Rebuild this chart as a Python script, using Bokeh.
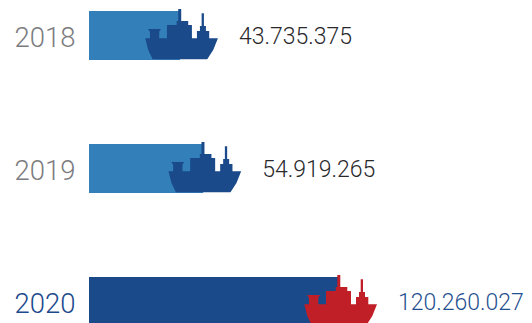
from bokeh.embed import file_html
from bokeh.models import ColumnDataSource, Range1d
from bokeh.plotting import figure
from bokeh.resources import INLINE
from bokeh.core.properties import value

years = ["2018", "2019", "2020"]
passengers = [43735375, 54919265, 120260027]
labels = ["43.735.375", "54.919.265", "120.260.027"]

WIDTH, HEIGHT = 532, 323
PX_PER_UNIT = 250 / 120260027
LEFT_PAD = 88.5
ROW_TOP = [10.5, 143.5, 276.5]
BAR_H = 49

bar_colors = ["#337fba", "#337fba", "#1a4a8a"]
ship_colors = ["#1a4a8a", "#1a4a8a", "#c01f27"]
year_colors = ["#7c7c80", "#7c7c80", "#1c4a8c"]
label_colors = ["#29292b", "#29292b", "#1f4f90"]

# Ship silhouette in pixels: x from the bar's end, y down from the bar's top.
ship_x = [-34.7, -30, -30, -32, -19, -20.7, -20.7, -13, -13, -3.3, -3.3, -1.7, -1.7, 1.3, 1.3,
          8.3, 8.3, 12, 12, 17, 17, 20, 20, 21.7, 21.7, 24, 24, 26, 26, 29.3, 29.3, 38,
          33.3, 27.3, -27.3, -31.7]
ship_y = [27.3, 27.3, 20.7, 18, 18, 20.7, 27.3, 27.3, 14, 14, 10, 10, -2, -2, 10,
          10, 14, 14, 27.3, 27.3, 20, 20, 15, 15, 2.3, 2.3, 15, 15, 20, 20, 27.3, 27.3,
          39, 48.3, 48.3, 39]

p = figure(width=WIDTH, height=HEIGHT, output_backend="svg", toolbar_location=None,
           x_range=Range1d(-LEFT_PAD / PX_PER_UNIT, (WIDTH - LEFT_PAD) / PX_PER_UNIT),
           y_range=Range1d(HEIGHT, 0), x_axis_location=None, y_axis_location=None,
           min_border=0, outline_line_color=None, background_fill_color="white",
           border_fill_color="white")
p.grid.visible = False

p.quad(left=[0, 0, 0], right=passengers, top=ROW_TOP,
       bottom=[t + BAR_H for t in ROW_TOP], fill_color=bar_colors, line_color=None)

p.patches(xs=[[v + dx / PX_PER_UNIT for dx in ship_x] for v in passengers],
          ys=[[t + dy for dy in ship_y] for t in ROW_TOP],
          fill_color=ship_colors, line_color=None)

year_src = ColumnDataSource(dict(
    x=[-74.5 / PX_PER_UNIT] * 3, y=[t + BAR_H / 2 + 1.5 for t in ROW_TOP],
    text=years, color=year_colors))
p.text(x="x", y="y", text="text", source=year_src, text_color="color",
       text_font=value("Roboto Light"), text_font_size="27.5px", text_baseline="middle",
       text_align="left")

label_src = ColumnDataSource(dict(
    x=[v + 59 / PX_PER_UNIT for v in passengers], y=[t + BAR_H / 2 for t in ROW_TOP],
    text=labels, color=label_colors))
p.text(x="x", y="y", text="text", source=label_src, text_color="color",
       text_font=value("Roboto Light"), text_font_size="23px", text_baseline="middle",
       text_align="left")

open("out.html", "w").write(file_html(p, INLINE))
